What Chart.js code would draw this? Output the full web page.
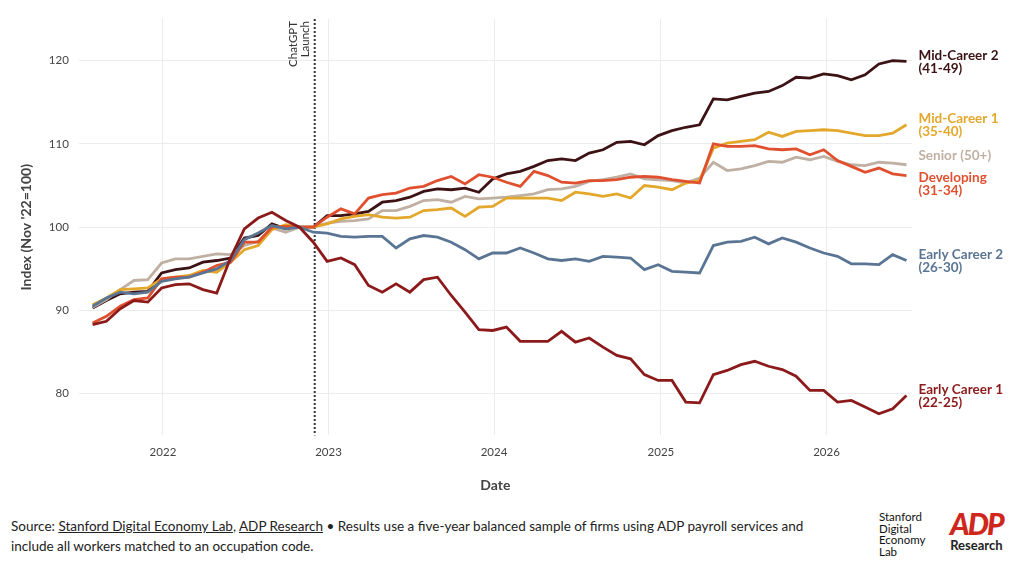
<!DOCTYPE html>
<html><head><meta charset="utf-8">
<script src="https://cdn.jsdelivr.net/npm/chart.js@4"></script>
<style>
body{margin:0;background:#fff;font-family:Lato,sans-serif;}
#wrap{position:absolute;left:0;top:0;width:1020px;height:500px;}
#foot{position:absolute;left:11px;top:516px;width:832px;font-size:13.5px;line-height:20px;color:#222;}
#foot u{text-decoration:underline;}
#sdel{position:absolute;left:879px;top:511px;font-size:11.5px;line-height:11.5px;color:#111;}
#adp{position:absolute;left:950px;top:508px;text-align:center;}
#adp .l{font-size:30px;font-weight:900;font-style:italic;color:#d0271d;line-height:30px;letter-spacing:-2px;}
#adp .r{font-size:13px;font-weight:700;color:#222;line-height:14px;}
</style></head><body>
<div id="wrap"><canvas id="c" width="1020" height="500"></canvas></div>
<div id="foot">Source: <u>Stanford Digital Economy Lab</u>, <u>ADP Research</u> • Results use a five-year balanced sample of firms using ADP payroll services and include all workers matched to an occupation code.</div>
<div id="sdel">Stanford<br>Digital<br>Economy<br>Lab</div>
<div id="adp"><div class="l">ADP</div><div class="r">Research</div></div>
<script>
const yearLabels=['2022','2023','2024','2025','2026'];
const yearPos=[5.1,17.1,29.1,41.2,53.2];
const chatgptPos=16.1;
const names=['Mid-Career 2','Mid-Career 1','Senior (50+)','Developing','Early Career 2','Early Career 1'];
const sub=['(41-49)','(35-40)','','(31-34)','(26-30)','(22-25)'];
const midCareer2=[90.3,91.2,92.0,92.2,92.3,94.5,94.9,95.1,95.8,96.0,96.3,98.7,99.0,100.4,99.8,100.0,100.0,101.4,101.4,101.6,101.9,103.0,103.2,103.6,104.3,104.6,104.5,104.7,104.2,105.8,106.4,106.7,107.3,108.0,108.2,108.0,108.9,109.3,110.2,110.3,109.9,111.0,111.6,112.0,112.3,115.4,115.3,115.7,116.1,116.3,117.0,118.0,117.9,118.4,118.2,117.7,118.3,119.6,120.0,119.9];
const midCareer1=[90.7,91.5,92.5,92.6,92.7,93.8,94.0,94.2,94.8,94.6,95.8,97.3,97.8,99.7,100.3,100.0,100.0,100.4,101.0,101.3,101.5,101.2,101.1,101.2,102.0,102.1,102.3,101.3,102.4,102.5,103.5,103.5,103.5,103.5,103.2,104.2,104.0,103.7,104.0,103.5,105.0,104.8,104.5,105.3,105.6,109.5,110.1,110.3,110.5,111.4,110.9,111.5,111.6,111.7,111.6,111.3,111.0,111.0,111.3,112.3];
const senior=[90.4,91.3,92.5,93.6,93.7,95.7,96.2,96.2,96.5,96.8,96.7,97.8,98.3,99.9,99.4,100.0,100.0,100.5,100.7,100.8,101.0,102.0,102.0,102.5,103.2,103.3,103.0,103.7,103.4,103.5,103.6,103.8,104.0,104.5,104.6,104.9,105.5,105.7,106.0,106.4,105.8,105.7,105.6,105.3,105.9,107.8,106.8,107.0,107.4,107.9,107.8,108.4,108.1,108.5,107.9,107.5,107.4,107.8,107.7,107.5];
const developing=[88.5,89.3,90.5,91.3,91.5,93.8,94.0,94.0,94.6,95.4,95.8,98.2,98.2,100.0,100.1,100.0,100.0,101.2,102.2,101.6,103.5,103.9,104.1,104.7,104.9,105.6,106.1,105.2,106.3,106.0,105.4,104.9,106.7,106.2,105.4,105.3,105.6,105.6,105.7,106.0,106.1,106.0,105.7,105.5,105.3,110.0,109.7,109.7,109.8,109.4,109.3,109.4,108.7,109.3,108.0,107.3,106.6,107.1,106.4,106.2];
const earlyCareer2=[90.5,91.5,92.2,92.0,92.2,93.5,93.8,94.0,94.5,95.0,96.0,98.5,99.3,100.2,99.8,100.0,99.4,99.3,98.9,98.8,98.9,98.9,97.5,98.6,99.0,98.8,98.2,97.3,96.2,96.9,96.9,97.5,96.9,96.2,96.0,96.2,95.9,96.5,96.4,96.3,94.9,95.5,94.7,94.6,94.5,97.8,98.2,98.3,98.8,98.0,98.7,98.2,97.5,96.9,96.5,95.6,95.6,95.5,96.7,96.0];
const earlyCareer1=[88.3,88.7,90.2,91.2,91.0,92.7,93.1,93.2,92.5,92.1,96.3,99.8,101.1,101.8,100.8,100.0,98.2,95.9,96.3,95.5,93.0,92.2,93.2,92.2,93.7,94.0,91.8,89.8,87.7,87.6,88.0,86.3,86.3,86.3,87.5,86.2,86.7,85.6,84.6,84.2,82.3,81.6,81.6,79.0,78.9,82.3,82.8,83.5,83.9,83.3,82.9,82.1,80.4,80.4,79.0,79.2,78.4,77.6,78.2,79.8];
const series=[midCareer2,midCareer1,senior,developing,earlyCareer2,earlyCareer1];
const colors=['#3d1214','#e3a82b','#bfb0a3','#e0502f','#5a7594','#8c1a1a'];
const labelOffset=[0,0,-9,8,0,0];
const drawOrder=[5,4,3,1,2,0];
const datasets=drawOrder.map(k=>({label:names[k],data:series[k].map((v,i)=>({x:i,y:v})),borderColor:colors[k],borderWidth:2.8,pointRadius:0,tension:0}));
const extra={id:'extra',
 beforeDatasetsDraw(ch){const {ctx,chartArea:a,scales:{x}}=ch;const px=x.getPixelForValue(chatgptPos);
  ctx.save();ctx.strokeStyle='#333';ctx.lineWidth=2;ctx.setLineDash([2,2]);ctx.beginPath();ctx.moveTo(px,a.top);ctx.lineTo(px,a.bottom);ctx.stroke();
  ctx.setLineDash([]);ctx.translate(px-6,a.top+2);ctx.rotate(-Math.PI/2);ctx.fillStyle='#333';ctx.font='11.5px Lato';ctx.textAlign='right';
  ctx.fillText('ChatGPT',0,-12);ctx.fillText('Launch',0,0);ctx.restore();},
 afterDatasetsDraw(ch){const {ctx,scales:{x,y}}=ch;ctx.save();ctx.font='bold 13.5px Lato';ctx.textBaseline='middle';
  series.forEach((s,k)=>{const px=x.getPixelForValue(s.length-1)+12;const py=y.getPixelForValue(s[s.length-1])+labelOffset[k];ctx.fillStyle=colors[k];
   if(sub[k]){ctx.fillText(names[k],px,py-6);ctx.fillText(sub[k],px,py+7);}else ctx.fillText(names[k],px,py);});
  ctx.restore();}};
new Chart(document.getElementById('c'),{type:'line',data:{datasets},
 options:{responsive:false,animation:false,layout:{padding:{left:14,right:108,top:19,bottom:6}},
  plugins:{legend:{display:false},tooltip:{enabled:false}},
  scales:{x:{type:'linear',min:-1,max:59.4,grid:{color:'#ececec',drawTicks:false},border:{display:false},
    afterBuildTicks(s){s.ticks=yearPos.map(v=>({value:v}));},
    ticks:{padding:10,color:'#444',font:{family:'Lato',size:11.5},callback:(v,i)=>yearLabels[i]},
    title:{display:true,text:'Date',color:'#444',font:{family:'Lato',size:14,weight:'bold'},padding:{top:8,bottom:0}}},
   y:{min:75,max:125,grid:{color:'#ececec',drawTicks:false},border:{display:false},
    afterBuildTicks(s){s.ticks=[80,90,100,110,120].map(v=>({value:v}));},
    ticks:{padding:10,color:'#444',font:{family:'Lato',size:11.5}},
    title:{display:true,text:"Index (Nov '22=100)",color:'#444',font:{family:'Lato',size:14,weight:'bold'}}}}},
 plugins:[extra]});
</script></body></html>
